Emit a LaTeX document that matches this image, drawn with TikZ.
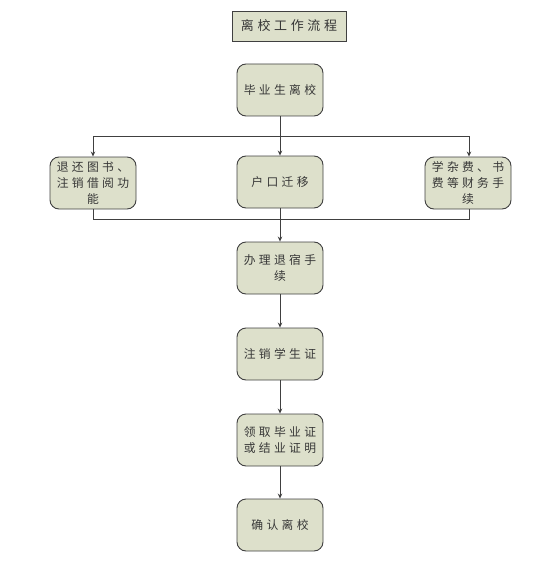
\documentclass[tikz,border=0pt]{standalone}
\usepackage{fontspec}
\newfontfamily\cjk[LetterSpace=28]{Noto Sans CJK SC}
\usetikzlibrary{arrows.meta}
\definecolor{boxfill}{RGB}{221,224,203}
\definecolor{boxline}{RGB}{64,64,64}
\definecolor{txt}{RGB}{55,55,55}
\tikzset{
  stepbox/.style={draw=boxline, fill=boxfill, rounded corners=9pt, line width=0.9pt,
    minimum width=86pt, minimum height=52pt, align=center, inner sep=1pt,
    font=\cjk\fontsize{11.8pt}{16pt}\selectfont, text=txt},
  titlebox/.style={draw=boxline, fill=boxfill, line width=0.9pt,
    minimum width=114pt, minimum height=30pt, align=center,
    font=\cjk\fontsize{13pt}{16pt}\selectfont, text=txt},
  conn/.style={draw=boxline, line width=0.8pt},
  arr/.style={conn, -{Stealth[length=5pt,width=4.5pt]}}
}
\begin{document}
\begin{tikzpicture}[x=1pt,y=-1pt]
\useasboundingbox (0,0) rectangle (554,575);
\node[titlebox] (title) at (289,26) {离校工作流程};
\node[stepbox] (s1) at (280,90) {毕业生离校};
\node[stepbox] (l) at (93,183) {退还图书、\\注销借阅功\\能};
\node[stepbox] (m) at (280,182) {户口迁移};
\node[stepbox] (r) at (468,183) {学杂费、书\\费等财务手\\续};
\node[stepbox] (s3) at (280,268) {办理退宿手\\续};
\node[stepbox] (s4) at (280,354) {注销学生证};
\node[stepbox] (s5) at (280,440) {领取毕业证\\或结业证明};
\node[stepbox] (s6) at (280,525) {确认离校};
\coordinate (tl) at (93,136);
\coordinate (tr) at (469,136);
\coordinate (bl) at (93,219);
\coordinate (br) at (469,219);
\draw[arr] (s1) -- (m);
\draw[conn] (tl) -- (tr);
\draw[arr] (tl) -- (l.north);
\draw[arr] (tr) -- (tr |- r.north);
\draw[conn] (l.south) -- (bl) -- (br) -- (br |- r.south);
\draw[arr] (m) -- (s3);
\draw[arr] (s3) -- (s4);
\draw[arr] (s4) -- (s5);
\draw[arr] (s5) -- (s6);
\end{tikzpicture}
\end{document}
